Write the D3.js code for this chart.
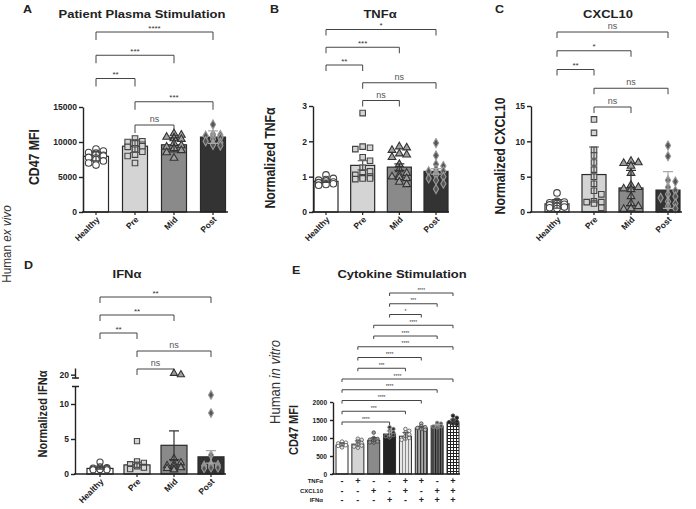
<!DOCTYPE html>
<html><head><meta charset="utf-8">
<script src="https://cdn.jsdelivr.net/npm/d3@7"></script>
<style>body{margin:0;background:#fff}svg{display:block}</style>
</head><body><svg id="c" width="696" height="509"></svg>
<script>
// ---------------- DATA ----------------
const groups = ["Healthy", "Pre", "Mid", "Post"];

// A: Patient Plasma Stimulation (CD47 MFI), mean ± SD
const aMeans = [7950, 9400, 9600, 10700];
const aErr = [650, 900, 1000, 900];
const aHealthy = [9000, 8700, 8500, 8400, 8200, 8100, 8000, 7800, 7700, 7500, 7300, 7000, 6700];
const aPre = [10500, 10100, 10000, 9900, 9800, 9600, 9400, 9300, 9100, 8900, 8600, 8200, 8000, 7000];
const aMid = [11200, 11000, 10700, 10600, 10500, 10400, 9800, 9500, 9300, 9100, 8800, 8500, 7700];
const aPost = [12500, 11100, 11000, 10900, 10800, 10600, 10400, 10100, 9900, 9700, 9600, 9500];
const aTicks = [0, 5000, 10000, 15000];
const aSig = [[0, 3, "****"], [0, 2, "***"], [0, 1, "**"], [1, 3, "***"], [1, 2, "ns"]];

// B: TNFα, mean ± SEM
const bMeans = [0.87, 1.32, 1.27, 1.15];
const bErr = [0.03, 0.13, 0.09, 0.08];
const bHealthy = [1.05, 0.95, 0.92, 0.9, 0.88, 0.85, 0.83, 0.8, 0.78, 0.76];
const bPre = [2.8, 1.85, 1.82, 1.78, 1.55, 1.45, 1.25, 1.15, 1.1, 1.05, 1.0, 0.98, 0.95, 0.95, 0.93];
const bMid = [1.85, 1.82, 1.75, 1.65, 1.62, 1.55, 1.35, 1.2, 1.1, 1.05, 1.0, 0.98, 0.95, 0.85, 0.78];
const bPost = [1.95, 1.6, 1.35, 1.3, 1.2, 1.15, 1.15, 1.1, 1.05, 1.0, 0.95, 0.9, 0.8, 0.65];
const bTicks = [0, 1, 2, 3];
const bSig = [[0, 3, "*"], [0, 2, "***"], [0, 1, "**"], [1, 3, "ns"], [1, 2, "ns"]];

// C: CXCL10, mean ± SD
const cMeans = [1.15, 5.3, 3.4, 3.1];
const cErr = [0.6, 3.9, 2.5, 2.6];
const cHealthy = [2.7, 1.5, 1.4, 1.3, 1.2, 1.1, 1.0, 0.9, 0.8, 0.7, 0.6, 0.5];
const cPre = [13.1, 11.2, 8.8, 8.0, 7.0, 6.0, 5.0, 4.0, 3.0, 2.5, 1.5, 1.4, 1.4, 1.2, 0.6];
const cMid = [7.2, 7.0, 6.9, 6.5, 5.5, 3.8, 3.5, 3.3, 3.2, 2.2, 1.2, 0.8, 0.5, 0.4];
const cPost = [9.4, 7.9, 4.5, 4.3, 3.5, 3.0, 2.5, 2.2, 2.0, 1.5, 1.2, 0.8, 0.5];
const cTicks = [0, 5, 10, 15];
const cSig = [[0, 3, "ns"], [0, 2, "*"], [0, 1, "**"], [1, 3, "ns"], [1, 2, "ns"]];

// D: IFNα, mean ± SEM (broken axis)
const dMeans = [0.8, 1.3, 4.1, 2.45];
const dErr = [0.1, 0.35, 2.05, 0.9];
const dHealthy = [1.7, 1.0, 0.9, 0.85, 0.8, 0.75, 0.7, 0.65, 0.6, 0.6];
const dPre = [4.7, 1.8, 1.6, 1.4, 1.3, 1.1, 1.0, 0.9, 0.8, 0.7];
const dMid = [20.2, 20.0, 2.2, 1.6, 1.4, 1.2, 1.1, 1.0, 0.9, 0.8, 0.7, 0.6];
const dPost = [11.3, 8.7, 2.7, 1.4, 1.3, 1.2, 1.1, 1.0, 1.0, 0.9, 0.9, 0.8];
const dTicksLow = [0, 5, 10];
const dTicksHigh = [20];
const dSig = [[0, 3, "**"], [0, 2, "**"], [0, 1, "**"], [1, 3, "ns"], [1, 2, "ns"]];

// E: Cytokine Stimulation (CD47 MFI), mean ± SD
const eConds = ["none", "TNFα", "CXCL10", "IFNα", "TNFα+CXCL10", "TNFα+IFNα", "CXCL10+IFNα", "TNFα+CXCL10+IFNα"];
const eMeans = [800, 830, 930, 1110, 1050, 1275, 1335, 1440];
const eErr = [60, 90, 80, 90, 100, 50, 40, 80];
const e1 = [900, 870, 850, 820, 800, 780, 760, 740];
const e2 = [980, 950, 900, 860, 820, 790, 760, 730];
const e3 = [1150, 1000, 970, 950, 930, 900, 880, 870];
const e4 = [1300, 1250, 1200, 1150, 1100, 1080, 1050, 1020];
const e5 = [1250, 1200, 1150, 1100, 1050, 1000, 980, 950];
const e6 = [1400, 1330, 1300, 1280, 1260, 1250, 1230];
const e7 = [1420, 1400, 1350, 1330, 1320, 1300];
const e8 = [1620, 1560, 1500, 1460, 1440, 1420, 1400, 1380];
const eTicks = [0, 500, 1000, 1500, 2000];
const eRowLabels = ["TNFα", "CXCL10", "IFNα"];
const eTNF = ["-", "+", "-", "-", "+", "+", "-", "+"];
const eCXCL = ["-", "-", "+", "-", "+", "-", "+", "+"];
const eIFN = ["-", "-", "-", "+", "-", "+", "+", "+"];
const eSig = [[3, 7, "****"], [3, 6, "***"], [3, 5, "*"], [2, 7, "****"], [2, 6, "****"], [1, 7, "****"], [1, 5, "****"], [1, 4, "***"], [0, 7, "****"], [0, 6, "****"], [0, 5, "****"], [0, 4, "***"], [0, 3, "****"]];

// ---------------- STYLE / LAYOUT ----------------
const FONT = '"Liberation Sans", Arial, Helvetica, sans-serif';
const ink = "#222";
const svg = d3.select("#c");
const defs = svg.append("defs");
function stripe(id, bg, fg, step, w) {
  const p = defs.append("pattern").attr("id", id).attr("patternUnits", "userSpaceOnUse").attr("width", step).attr("height", step);
  p.append("rect").attr("width", step).attr("height", step).attr("fill", bg);
  p.append("rect").attr("width", w).attr("height", step).attr("fill", fg);
}
stripe("p5", "#e6e6e6", "#8a8a8a", 3, 1);
stripe("p6", "#a8a8a8", "#3a3a3a", 3, 1.2);
stripe("p7", "#6a6a6a", "#202020", 2.5, 1);
(function () {
  const p = defs.append("pattern").attr("id", "p8").attr("patternUnits", "userSpaceOnUse").attr("width", 3).attr("height", 3);
  p.append("rect").attr("width", 3).attr("height", 3).attr("fill", "#fff");
  p.append("rect").attr("width", 1).attr("height", 3).attr("fill", "#222");
  p.append("rect").attr("width", 3).attr("height", 1).attr("fill", "#222");
})();

const groupFill = ["#ffffff", "#d4d4d4", "#8a8a8a", "#333333"];
const groupErr = ["#444", "#555", "#333", "#aaa"];
const groupSym = [d3.symbolCircle, d3.symbolSquare, d3.symbolTriangle, d3.symbolDiamond];
const groupSymScale = [1, 0.9, 0.75, 0.7];
const groupSymFill = ["#ffffff", "#d4d4d4", "#a0a0a0", "#555"];
const groupSymStroke = ["#444", "#444", "#333", "#999"];

function hText(x, y, txt, size, weight, anchor, sy) {
  return svg.append("text").attr("transform", `translate(${x},${y}) scale(1,${sy || 0.9})`)
    .attr("font-family", FONT).attr("font-size", size).attr("font-weight", weight || "bold")
    .attr("text-anchor", anchor || "middle").attr("fill", ink).text(txt);
}
function vText(x, y, txt, size, weight, sx) {
  return svg.append("text").attr("transform", `translate(${x},${y}) rotate(-90) scale(${sx || 0.88},1)`)
    .attr("font-family", FONT).attr("font-size", size).attr("font-weight", weight || "bold")
    .attr("text-anchor", "middle").attr("fill", ink).text(txt);
}

function yAxis(scale, x, ticks, fs) {
  const ax = d3.axisLeft(scale).tickValues(ticks).tickSize(4).tickSizeOuter(0).tickFormat(d3.format("d"));
  const g = svg.append("g").attr("transform", `translate(${x},0)`).call(ax);
  g.selectAll("path,line").attr("stroke", ink).attr("stroke-width", 1.4);
  g.selectAll("text").attr("font-family", FONT).attr("font-weight", "bold").attr("font-size", fs).attr("fill", ink).attr("x", -6);
  return g;
}

// deterministic swarm layout, offsets limited to +/- limit
function beeswarm(vals, y, d, limit) {
  const placed = [];
  const sorted = vals.map(v => ({ v, y: y(v) })).sort((a, b) => a.y - b.y);
  sorted.forEach(p => {
    const cands = [];
    for (let k = 0; k < 60; k++) {
      const c = (k % 2 ? 1 : -1) * Math.ceil(k / 2) * d * 0.6;
      if (Math.abs(c) > limit) break;
      cands.push(c);
    }
    let best = cands[0], bestHits = Infinity;
    for (const c of cands) {
      const hits = placed.filter(q => Math.abs(q.y - p.y) < d * 0.75 && Math.abs(q.dx - c) < d * 0.85).length;
      if (hits < bestHits) { bestHits = hits; best = c; }
      if (hits === 0) break;
    }
    p.dx = best;
    placed.push(p);
  });
  return placed;
}

function brackets(x, cats, list, top, step, tick, fs) {
  const g = svg.append("g");
  list.forEach((b, i) => {
    const yy = top + i * step;
    const x1 = x(cats[b[0]]), x2 = x(cats[b[1]]);
    g.append("path").attr("d", `M${x1},${yy + tick}V${yy}H${x2}V${yy + tick}`)
      .attr("fill", "none").attr("stroke", "#444").attr("stroke-width", 1);
    g.append("text").attr("x", (x1 + x2) / 2).attr("y", yy - (b[2] === "ns" ? 3 : 1.5))
      .attr("text-anchor", "middle").attr("font-family", FONT).attr("font-size", b[2] === "ns" ? fs + 1 : fs)
      .attr("fill", b[2] === "ns" ? "#555" : "#333").text(b[2]);
  });
}

function xAxisCat(x, cats, y0, x0, x1, fs) {
  svg.append("line").attr("x1", x0).attr("x2", x1).attr("y1", y0).attr("y2", y0).attr("stroke", ink).attr("stroke-width", 1.5);
  const g = svg.append("g");
  cats.forEach(c => {
    g.append("line").attr("x1", x(c)).attr("x2", x(c)).attr("y1", y0).attr("y2", y0 + 3).attr("stroke", ink).attr("stroke-width", 1.2);
    g.append("text").attr("transform", `translate(${x(c) + 2},${y0 + 6}) rotate(-45)`)
      .attr("text-anchor", "end").attr("dy", "0.35em").attr("font-family", FONT).attr("font-weight", "bold")
      .attr("font-size", fs).attr("fill", ink).text(c);
  });
}

function barsAndPoints(x, yFn, means, errs, pts, barW, y0, symSize) {
  const g = svg.append("g");
  means.forEach((m, i) => {
    const cx = x(groups[i]);
    g.append("rect").attr("x", cx - barW / 2).attr("y", yFn(m)).attr("width", barW).attr("height", y0 - yFn(m))
      .attr("fill", groupFill[i]).attr("stroke", "#2a2a2a").attr("stroke-width", 1.2);
  });
  means.forEach((m, i) => {
    const cx = x(groups[i]);
    const sz = symSize * groupSymScale[i];
    const sw = Math.sqrt(symSize) * 1.05;
    beeswarm(pts[i], yFn, sw, barW / 2 - 1).forEach(p => {
      g.append("path").attr("d", d3.symbol(groupSym[i], sz)())
        .attr("transform", `translate(${cx + p.dx},${p.y})`)
        .attr("fill", groupSymFill[i]).attr("stroke", groupSymStroke[i]).attr("stroke-width", 1.1);
    });
  });
  means.forEach((m, i) => {
    const cx = x(groups[i]);
    const yt = yFn(m + errs[i]), yb = yFn(Math.max(0, m - errs[i]));
    const cw = 5;
    g.append("path").attr("d", `M${cx},${yb}V${yt}M${cx - cw},${yt}H${cx + cw}M${cx - cw},${yb}H${cx + cw}`)
      .attr("fill", "none").attr("stroke", groupErr[i]).attr("stroke-width", 1.2);
  });
}

// ---------- Side labels ----------
(function () {
  const t1 = svg.append("text").attr("transform", "translate(11,244) rotate(-90) scale(0.9,1)")
    .attr("font-family", FONT).attr("font-size", 13).attr("text-anchor", "middle").attr("fill", "#333");
  t1.append("tspan").text("Human ");
  t1.append("tspan").attr("font-style", "italic").text("ex vivo");
  const t2 = svg.append("text").attr("transform", "translate(280,382) rotate(-90) scale(0.9,1)")
    .attr("font-family", FONT).attr("font-size", 14.5).attr("text-anchor", "middle").attr("fill", "#333");
  t2.append("tspan").text("Human ");
  t2.append("tspan").attr("font-style", "italic").text("in vitro");
})();

// ---------- Panel A ----------
(function () {
  const x = d3.scalePoint().domain(groups).range([96, 213]);
  const y = d3.scaleLinear().domain([0, 15000]).range([212, 107]);
  hText(23, 13, "A", 12.5, "bold", "start");
  hText(142, 18, "Patient Plasma Stimulation", 13);
  vText(39, 157, "CD47 MFI", 14);
  brackets(x, groups, aSig, 32, 23.25, 8, 8);
  barsAndPoints(x, y, aMeans, aErr, [aHealthy, aPre, aMid, aPost], 25, 212, 34);
  yAxis(y, 83, aTicks, 8.5);
  xAxisCat(x, groups, 212, 82, 228, 8.5);
})();

// ---------- Panel B ----------
(function () {
  const x = d3.scalePoint().domain(groups).range([326, 436]);
  const y = d3.scaleLinear().domain([0, 3]).range([212, 106]);
  hText(270, 13, "B", 12.5, "bold", "start");
  hText(380, 18, "TNFα", 13);
  vText(275, 158, "Normalized TNFα", 14);
  brackets(x, groups, bSig, 29.5, 17.75, 6, 8);
  barsAndPoints(x, y, bMeans, bErr, [bHealthy, bPre, bMid, bPost], 24, 212, 34);
  yAxis(y, 313, bTicks, 8.5);
  xAxisCat(x, groups, 212, 312, 449, 8.5);
})();

// ---------- Panel C ----------
(function () {
  const x = d3.scalePoint().domain(groups).range([557, 668]);
  const y = d3.scaleLinear().domain([0, 15]).range([212, 106]);
  hText(495, 13, "C", 12.5, "bold", "start");
  hText(608, 18, "CXCL10", 13);
  vText(505, 156, "Normalized CXCL10", 14);
  brackets(x, groups, cSig, 32, 18.75, 6, 8);
  barsAndPoints(x, y, cMeans, cErr, [cHealthy, cPre, cMid, cPost], 24, 212, 34);
  yAxis(y, 531, cTicks, 8.5);
  xAxisCat(x, groups, 212, 530, 682, 8.5);
})();

// ---------- Panel D ----------
(function () {
  const x = d3.scalePoint().domain(groups).range([100, 211]);
  const yLow = d3.scaleLinear().domain([0, 12.5]).range([474, 386.5]);
  const yHigh = d3.scaleLinear().domain([19.5, 21]).range([378, 368]);
  const yFn = v => (v > 15 ? yHigh(v) : yLow(v));
  hText(24, 269, "D", 12.5, "bold", "start");
  hText(127, 278, "IFNα", 13);
  vText(47, 414, "Normalized IFNα", 12.5);
  brackets(x, groups, dSig, 297, 18, 6, 8);
  barsAndPoints(x, yFn, dMeans, dErr, [dHealthy, dPre, dMid, dPost], 26, 474, 30);
  yAxis(yLow, 75, dTicksLow, 8.5);
  yAxis(yHigh, 75, dTicksHigh, 8.5);
  svg.append("path").attr("d", "M72,386.5H79M72,378H79").attr("stroke", ink).attr("stroke-width", 1.4);
  xAxisCat(x, groups, 474, 74, 226, 8.5);
})();

// ---------- Panel E ----------
(function () {
  const x = d3.scalePoint().domain(eConds).range([342, 453]);
  const y = d3.scaleLinear().domain([0, 2000]).range([474, 402]);
  hText(292, 274, "E", 12.5, "bold", "start");
  hText(402, 278, "Cytokine Stimulation", 13);
  vText(298, 430, "CD47 MFI", 12.5);
  brackets(x, eConds, eSig, 293, 10.75, 3, 5);
  const eFill = ["#ffffff", "#d4d4d4", "#8a8a8a", "#222222", "url(#p5)", "url(#p6)", "url(#p7)", "url(#p8)"];
  const ptFill = ["#fff", "#e0e0e0", "#999", "#333", "#eee", "#bbb", "#555", "#222"];
  const ptStroke = ["#555", "#555", "#444", "#888", "#555", "#444", "#999", "#444"];
  const pts = [e1, e2, e3, e4, e5, e6, e7, e8];
  const g = svg.append("g");
  eConds.forEach((c, i) => {
    const cx = x(c);
    g.append("rect").attr("x", cx - 6).attr("y", y(eMeans[i])).attr("width", 12).attr("height", 474 - y(eMeans[i]))
      .attr("fill", eFill[i]).attr("stroke", "#2a2a2a").attr("stroke-width", 1);
  });
  eConds.forEach((c, i) => {
    const cx = x(c);
    beeswarm(pts[i], y, 3.2, 6).forEach(p => {
      g.append("circle").attr("cx", cx + p.dx).attr("cy", p.y).attr("r", 1.8)
        .attr("fill", ptFill[i]).attr("stroke", ptStroke[i]).attr("stroke-width", 0.8);
    });
    const yt = y(eMeans[i] + eErr[i]), yb = y(eMeans[i] - eErr[i]);
    g.append("path").attr("d", `M${cx},${yb}V${yt}M${cx - 3},${yt}H${cx + 3}`)
      .attr("fill", "none").attr("stroke", i === 3 || i === 6 ? "#aaa" : "#444").attr("stroke-width", 0.9);
  });
  yAxis(y, 333, eTicks, 6.5).selectAll("line").attr("x2", -3);
  svg.append("line").attr("x1", 332).attr("x2", 460).attr("y1", 474).attr("y2", 474).attr("stroke", ink).attr("stroke-width", 1.4);
  // +/- table
  const rows = [eTNF, eCXCL, eIFN];
  const rowY = [481, 491, 499.5];
  rows.forEach((r, ri) => {
    svg.append("text").attr("x", 323).attr("y", rowY[ri]).attr("dy", "0.35em").attr("text-anchor", "end")
      .attr("font-family", FONT).attr("font-weight", "bold").attr("font-size", 6).attr("fill", ink).text(eRowLabels[ri]);
    r.forEach((s, ci) => {
      svg.append("text").attr("x", x(eConds[ci])).attr("y", rowY[ri]).attr("dy", "0.35em").attr("text-anchor", "middle")
        .attr("font-family", FONT).attr("font-weight", "bold").attr("font-size", 9).attr("fill", ink).text(s);
    });
  });
})();
</script>
</body></html>
